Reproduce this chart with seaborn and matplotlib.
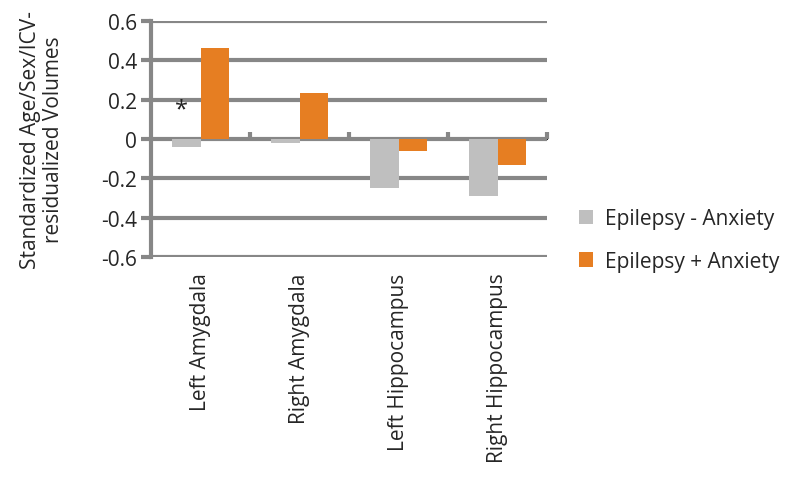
import numpy as np
import pandas as pd
import matplotlib
matplotlib.use("Agg")
import matplotlib.pyplot as plt
import seaborn as sns

# ---------------------------------------------------------------------------
# DATA
# ---------------------------------------------------------------------------
regions = ["Left Amygdala", "Right Amygdala", "Left Hippocampus", "Right Hippocampus"]
groups = ["Epilepsy - Anxiety", "Epilepsy + Anxiety"]
no_anxiety = [-0.04, -0.02, -0.25, -0.29]
with_anxiety = [0.46, 0.235, -0.06, -0.135]
y_ticks = [-0.6, -0.4, -0.2, 0.0, 0.2, 0.4, 0.6]
y_tick_labels = ["-0.6", "-0.4", "-0.2", "0", "0.2", "0.4", "0.6"]

df = pd.DataFrame({
    "region": regions * 2,
    "group": [groups[0]] * len(regions) + [groups[1]] * len(regions),
    "value": no_anxiety + with_anxiety,
})

# ---------------------------------------------------------------------------
# STYLE
# ---------------------------------------------------------------------------
sns.set_style("white")
plt.rcParams["font.family"] = ["Open Sans", "DejaVu Sans"]
GRID = "#878787"
LW = 3.0
FS = 15
colors = {groups[0]: "#bfbfbf", groups[1]: "#e67e22"}

fig = plt.figure(figsize=(8, 4.85), dpi=100)
ax = fig.add_axes([0.189, 0.468, 0.495, 0.487])

sns.barplot(data=df, x="region", y="value", hue="group", order=regions,
            hue_order=groups, palette=colors, width=0.58, gap=0,
            saturation=1, ax=ax, errorbar=None, linewidth=0)

ax.set_ylim(-0.6, 0.6)
ax.set_xlim(-0.5, 3.5)
ax.set_yticks(y_ticks)
ax.set_yticklabels(y_tick_labels, fontsize=FS)
ax.tick_params(axis="y", length=7, width=LW, color=GRID, pad=3, left=True)
ax.yaxis.grid(True, color=GRID, linewidth=LW)
ax.set_axisbelow(True)

# x labels at the bottom, rotated
ax.set_xticks(range(len(regions)))
ax.set_xticklabels(regions, rotation=90, fontsize=FS, va="top")
ax.tick_params(axis="x", length=0, pad=11)
ax.set_xlabel("")
ax.set_ylabel("Standardized Age/Sex/ICV-\nresidualized Volumes", fontsize=FS,
              labelpad=27, linespacing=1.1)

for side in ["top", "right", "bottom"]:
    ax.spines[side].set_visible(False)
ax.spines["left"].set_color(GRID)
ax.spines["left"].set_linewidth(LW)

# zero axis with category boundary ticks
zero_ax = ax.secondary_xaxis(0.5)
zero_ax.set_xticks([0.5, 1.5, 2.5, 3.5])
zero_ax.set_xticklabels([])
zero_ax.tick_params(axis="x", length=5, width=LW, color=GRID, direction="out")
zero_ax.spines["bottom"].set_color(GRID)
zero_ax.spines["bottom"].set_linewidth(LW)

# significance marker
ax.text(-0.19, 0.15, "*", ha="center", va="center", fontsize=17, color="#222222")

ax.legend(loc="center left", bbox_to_anchor=(0.70, 0.503),
          bbox_transform=fig.transFigure, frameon=False, fontsize=FS,
          handlelength=0.7, handleheight=0.7, labelspacing=1.05, handletextpad=0.55)

fig.savefig("out.png", dpi=100)
